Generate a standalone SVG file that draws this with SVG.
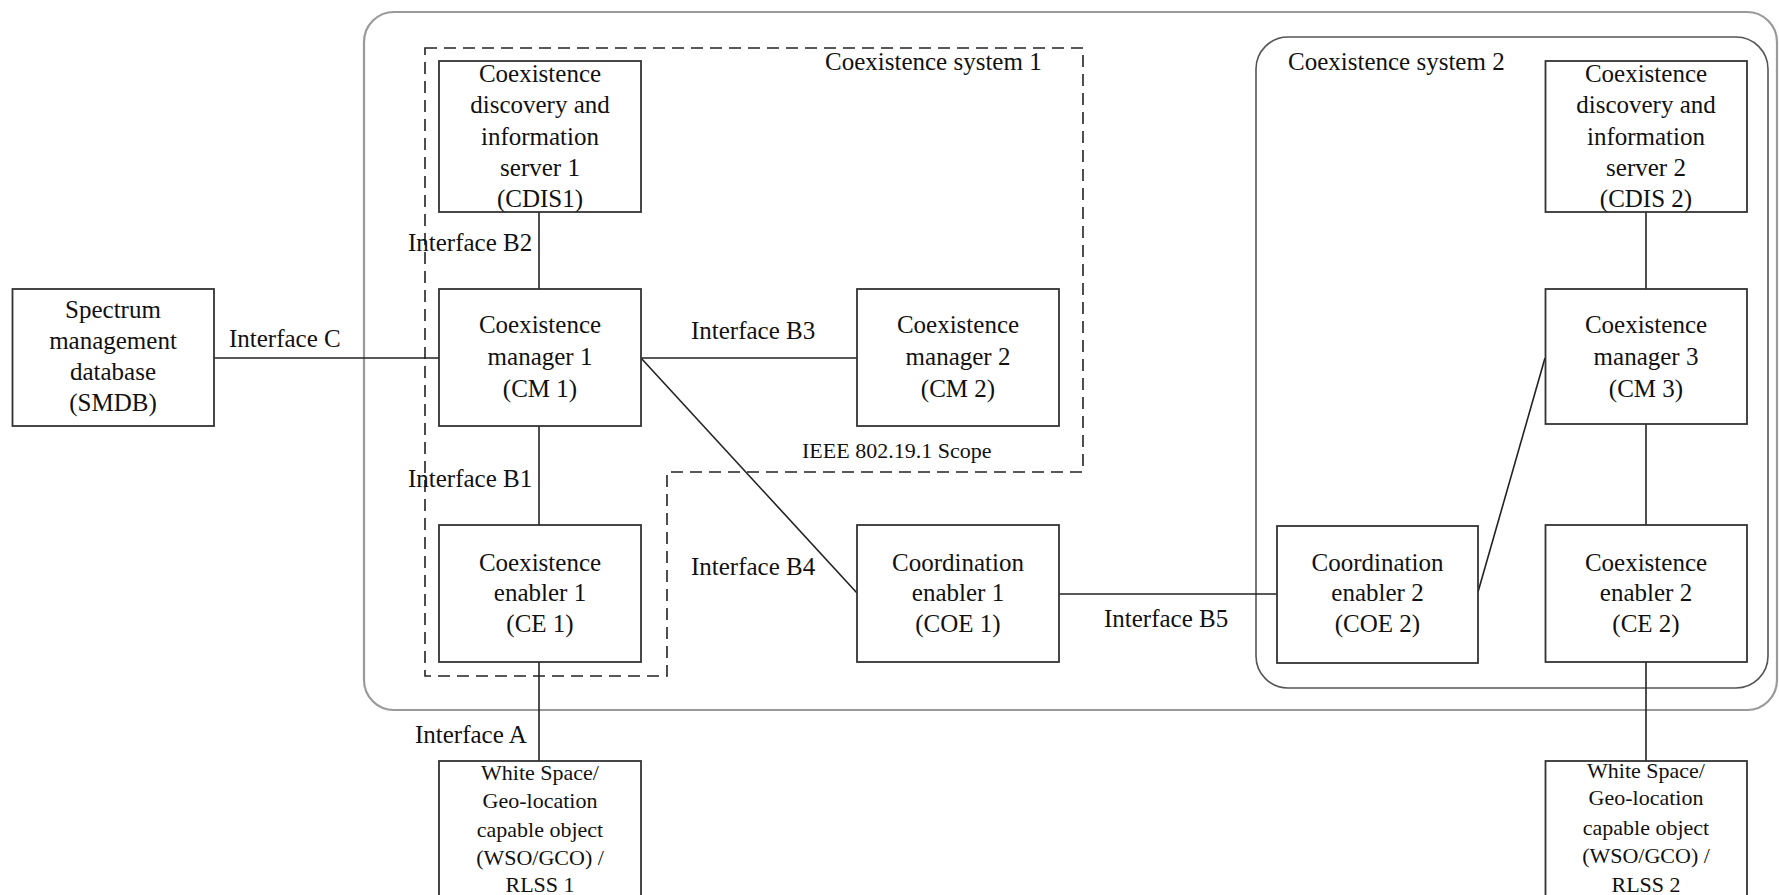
<svg xmlns="http://www.w3.org/2000/svg" width="1779" height="895" viewBox="0 0 1779 895">
<style>
text{font-family:"Liberation Serif","Times New Roman",serif;fill:#111;}
.n{font-size:25px;text-anchor:middle;}
.s{font-size:22px;text-anchor:middle;}
.l{font-size:25px;}
.box{fill:#fff;stroke:#333;stroke-width:1.8;}
.c{stroke:#222;stroke-width:1.6;fill:none;}
</style>
<rect width="1779" height="895" fill="#fff"/>
<g id="outer-boundary">
<rect x="364" y="12" width="1413" height="698" rx="30" fill="none" stroke="#9a9a9a" stroke-width="2.2"/>
</g>
<g id="coexistence-system-2">
<rect x="1256" y="37" width="512" height="651" rx="32" fill="none" stroke="#555" stroke-width="1.6"/>
<text class="l" x="1288" y="70">Coexistence system 2</text>
</g>
<g id="ieee-scope">
<path d="M425,48 H1083 V472 H667 V676 H425 Z" fill="none" stroke="#222" stroke-width="1.6" stroke-dasharray="12,7"/>
<text class="l" x="825" y="70">Coexistence system 1</text>
<text class="l" x="802" y="458" style="font-size:22px">IEEE 802.19.1 Scope</text>
</g>
<g id="connectors">
<line class="c" x1="214" y1="358" x2="439" y2="358"/>
<line class="c" x1="539" y1="212" x2="539" y2="289"/>
<line class="c" x1="539" y1="426" x2="539" y2="525"/>
<line class="c" x1="539" y1="662" x2="539" y2="761"/>
<line class="c" x1="641" y1="358" x2="857" y2="358"/>
<line class="c" x1="641" y1="358" x2="857" y2="593"/>
<line class="c" x1="1059" y1="594" x2="1277" y2="594"/>
<line class="c" x1="1478" y1="592" x2="1545" y2="358"/>
<line class="c" x1="1646" y1="212" x2="1646" y2="289"/>
<line class="c" x1="1646" y1="424" x2="1646" y2="525"/>
<line class="c" x1="1646" y1="662" x2="1646" y2="761"/>
<text class="l" x="229" y="347">Interface C</text>
<text class="l" x="408" y="251">Interface B2</text>
<text class="l" x="691" y="339">Interface B3</text>
<text class="l" x="408" y="487">Interface B1</text>
<text class="l" x="691" y="575">Interface B4</text>
<text class="l" x="1104" y="627">Interface B5</text>
<text class="l" x="415" y="743">Interface A</text>
</g>
<g id="smdb">
<rect class="box" x="12.5" y="289" width="201.5" height="137"/>
<text class="n" x="113" y="318">Spectrum</text>
<text class="n" x="113" y="349">management</text>
<text class="n" x="113" y="380">database</text>
<text class="n" x="113" y="411">(SMDB)</text>
</g>
<g id="cdis1">
<rect class="box" x="439" y="61" width="202" height="151"/>
<text class="n" x="540" y="82">Coexistence</text>
<text class="n" x="540" y="113">discovery and</text>
<text class="n" x="540" y="145">information</text>
<text class="n" x="540" y="176">server 1</text>
<text class="n" x="540" y="207">(CDIS1)</text>
</g>
<g id="cm1">
<rect class="box" x="439" y="289" width="202" height="137"/>
<text class="n" x="540" y="333">Coexistence</text>
<text class="n" x="540" y="365">manager 1</text>
<text class="n" x="540" y="397">(CM 1)</text>
</g>
<g id="cm2">
<rect class="box" x="857" y="289" width="202" height="137"/>
<text class="n" x="958" y="333">Coexistence</text>
<text class="n" x="958" y="365">manager 2</text>
<text class="n" x="958" y="397">(CM 2)</text>
</g>
<g id="ce1">
<rect class="box" x="439" y="525" width="202" height="137"/>
<text class="n" x="540" y="571">Coexistence</text>
<text class="n" x="540" y="601">enabler 1</text>
<text class="n" x="540" y="632">(CE 1)</text>
</g>
<g id="coe1">
<rect class="box" x="857" y="525" width="202" height="137"/>
<text class="n" x="958" y="571">Coordination</text>
<text class="n" x="958" y="601">enabler 1</text>
<text class="n" x="958" y="632">(COE 1)</text>
</g>
<g id="wso1">
<rect class="box" x="439" y="761" width="202" height="150"/>
<text class="s" x="540" y="780">White Space/</text>
<text class="s" x="540" y="808">Geo-location</text>
<text class="s" x="540" y="837">capable object</text>
<text class="s" x="540" y="865">(WSO/GCO) /</text>
<text class="s" x="540" y="892">RLSS 1</text>
</g>
<g id="cdis2">
<rect class="box" x="1545.5" y="61" width="201.5" height="151"/>
<text class="n" x="1646" y="82">Coexistence</text>
<text class="n" x="1646" y="113">discovery and</text>
<text class="n" x="1646" y="145">information</text>
<text class="n" x="1646" y="176">server 2</text>
<text class="n" x="1646" y="207">(CDIS 2)</text>
</g>
<g id="cm3">
<rect class="box" x="1545.5" y="289" width="201.5" height="135"/>
<text class="n" x="1646" y="333">Coexistence</text>
<text class="n" x="1646" y="365">manager 3</text>
<text class="n" x="1646" y="397">(CM 3)</text>
</g>
<g id="coe2">
<rect class="box" x="1277" y="526" width="201" height="137"/>
<text class="n" x="1377.5" y="571">Coordination</text>
<text class="n" x="1377.5" y="601">enabler 2</text>
<text class="n" x="1377.5" y="632">(COE 2)</text>
</g>
<g id="ce2">
<rect class="box" x="1545.5" y="525" width="201.5" height="137"/>
<text class="n" x="1646" y="571">Coexistence</text>
<text class="n" x="1646" y="601">enabler 2</text>
<text class="n" x="1646" y="632">(CE 2)</text>
</g>
<g id="wso2">
<rect class="box" x="1545.5" y="761" width="201.5" height="150"/>
<text class="s" x="1646" y="778">White Space/</text>
<text class="s" x="1646" y="805">Geo-location</text>
<text class="s" x="1646" y="835">capable object</text>
<text class="s" x="1646" y="863">(WSO/GCO) /</text>
<text class="s" x="1646" y="892">RLSS 2</text>
</g>
</svg>
